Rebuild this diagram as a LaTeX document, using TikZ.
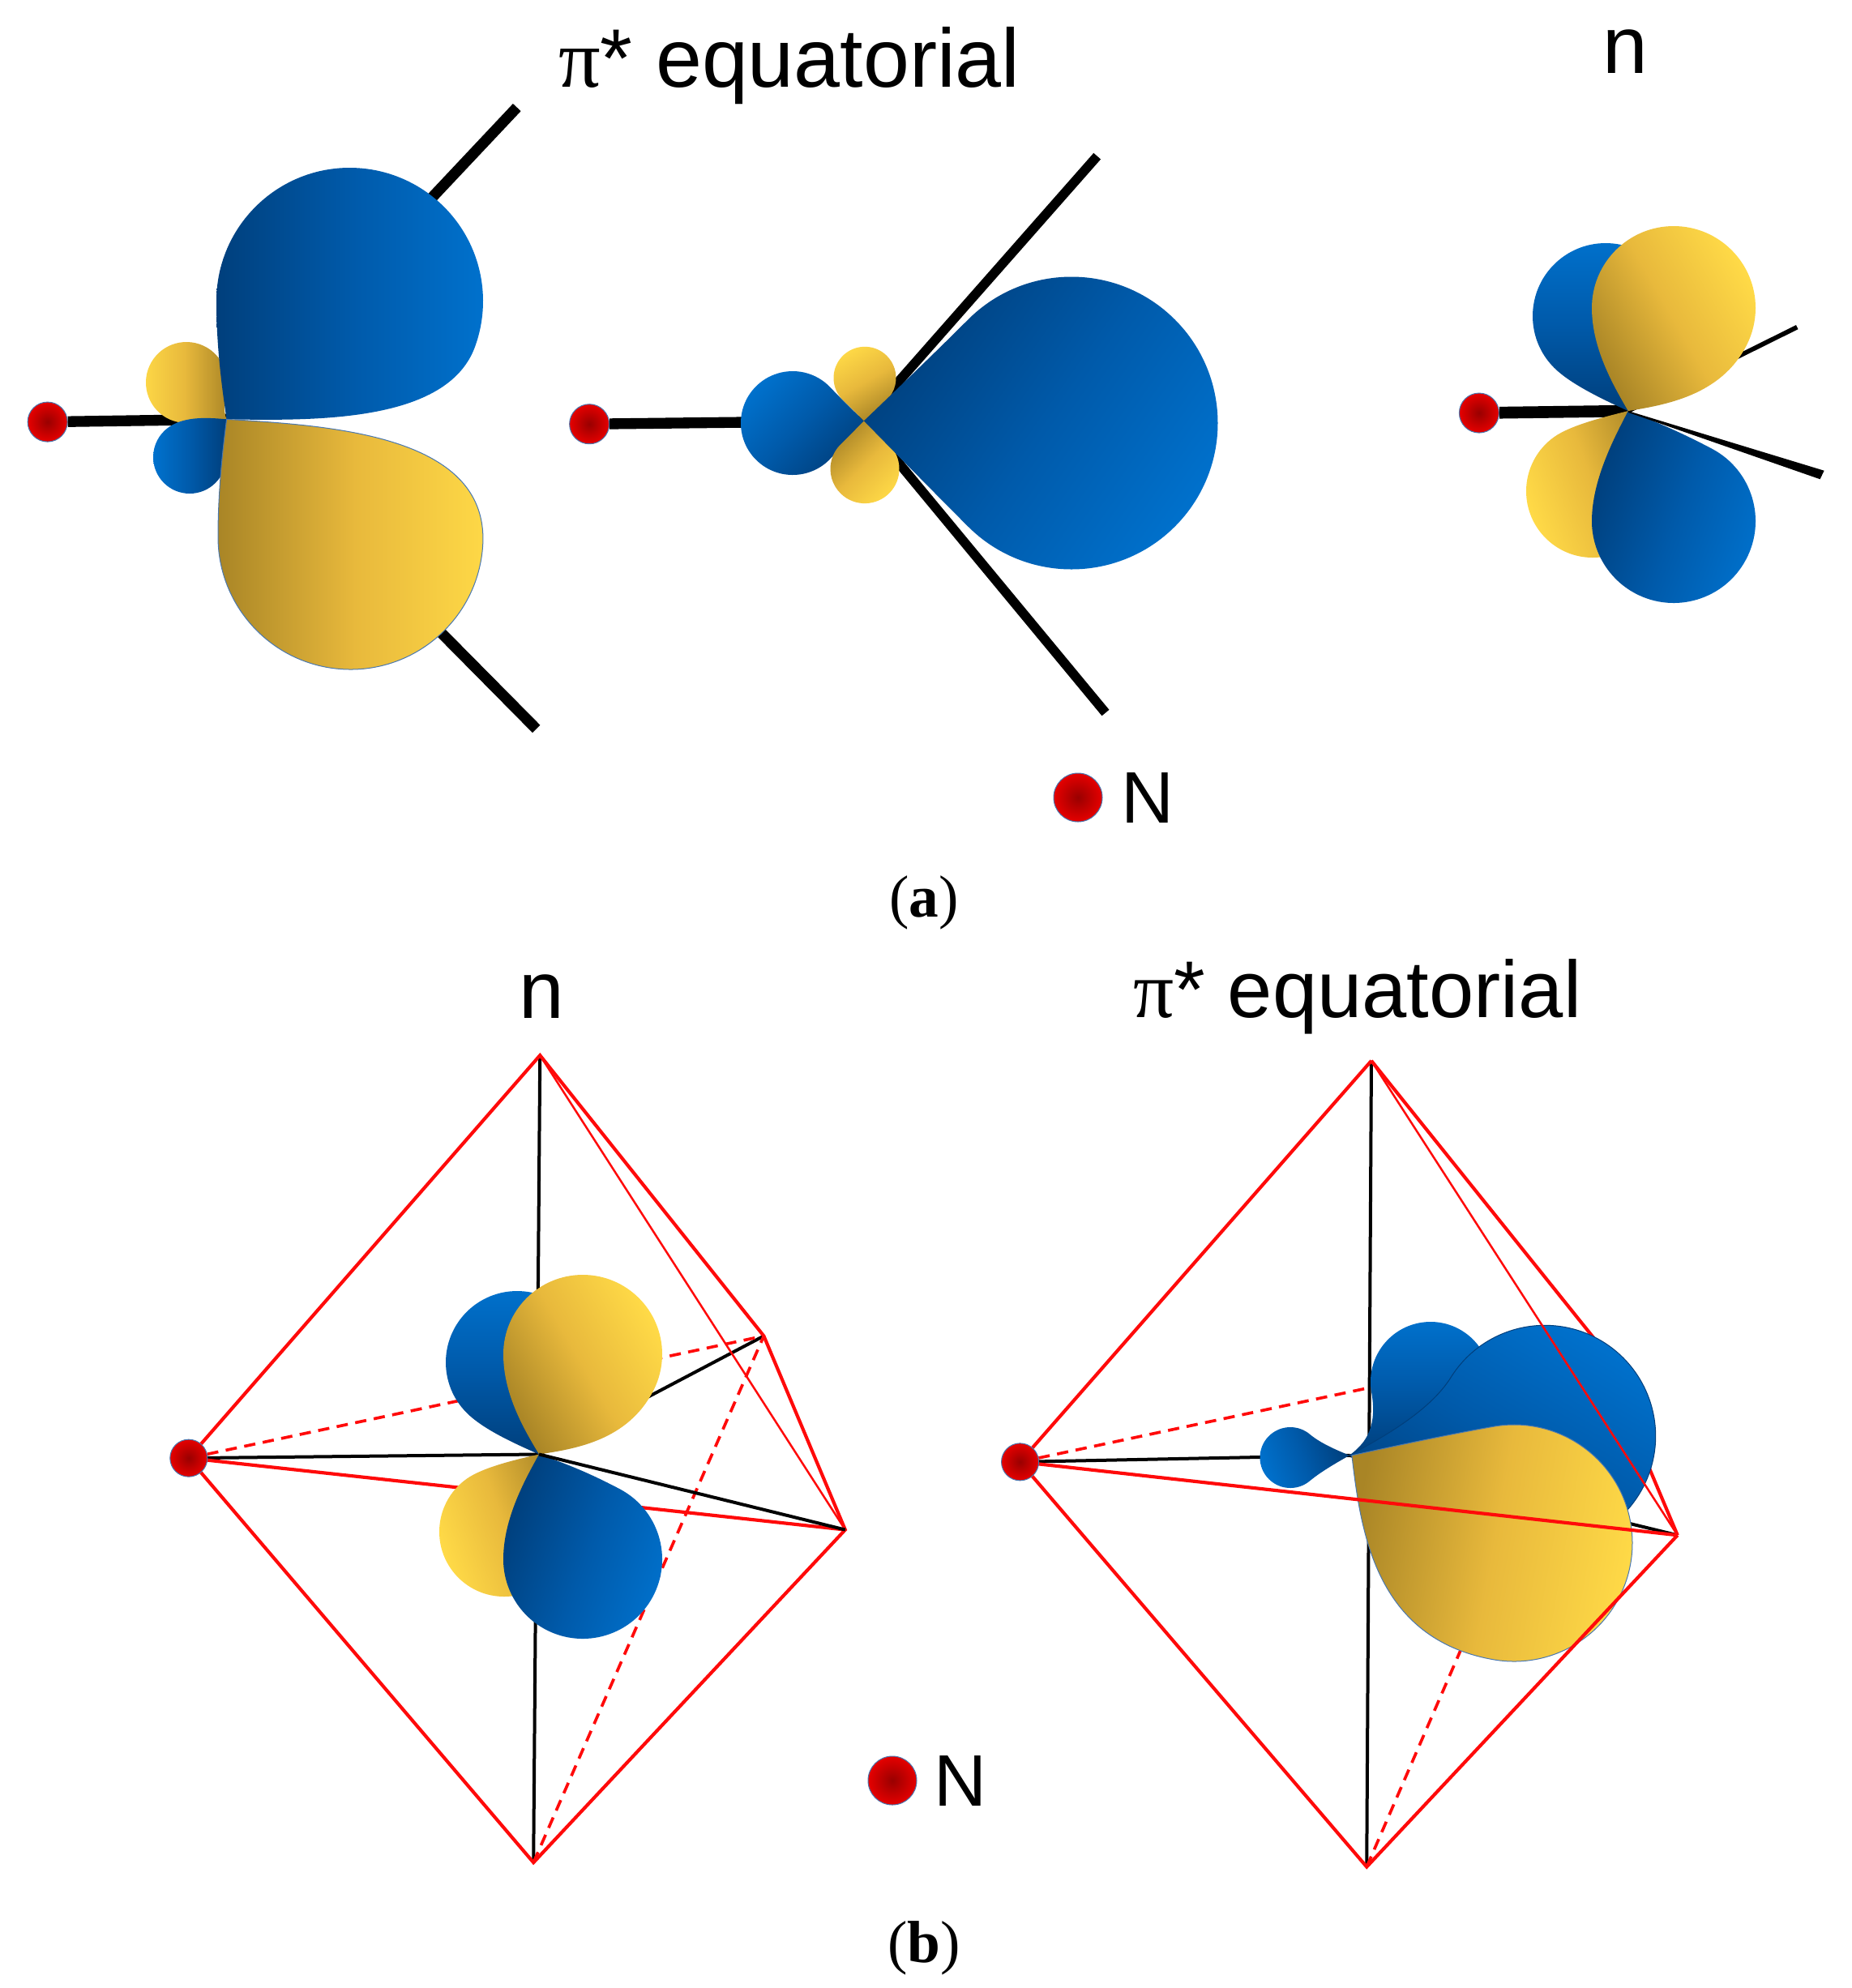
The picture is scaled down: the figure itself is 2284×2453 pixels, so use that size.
\documentclass[tikz,border=0pt]{standalone}
\usepackage{fontspec}
\usetikzlibrary{calc}
\setmainfont{Liberation Sans}
\newfontfamily\tms{Liberation Serif}
\definecolor{bbr}{HTML}{0072CE}
\definecolor{bmd}{HTML}{005AAA}
\definecolor{bdk}{HTML}{003F7C}
\definecolor{ybr}{HTML}{FFDA47}
\definecolor{ymd}{HTML}{E8B93C}
\definecolor{ydk}{HTML}{A98526}
\definecolor{rededge}{HTML}{FF0A0A}
\definecolor{rim}{HTML}{4A78B0}
\tikzset{
  zA/.style={shift={(0,100)},x=0.15306pt,y=-0.16260pt},
  zB/.style={shift={(680,150)},x=0.16260pt,y=-0.14542pt},
  zC/.style={shift={(1750,230)},x=0.10218pt,y=-0.10523pt},
  zD/.style={shift={(180,1270)},x=0.17222pt,y=-0.20094pt},
  zE/.style={shift={(1200,1270)},x=0.17222pt,y=-0.20094pt},
  bluelobe/.style={top color=bbr,bottom color=bdk,middle color=bmd,shading angle=#1},
  yellowlobe/.style={top color=ybr,bottom color=ydk,middle color=ymd,shading angle=#1},
  atomball/.style={circle,inner sep=0pt,minimum size=#1,inner color=red!60!black,outer color=red!90!black,draw=rim,line width=0.3pt},
  bond/.style={draw=black,line width=#1},
  edgeline/.style={draw=rededge,line width=1.25pt},
  thinedge/.style={draw=rededge,line width=0.75pt},
  hiddenedge/.style={draw=rededge,line width=1.1pt,dash pattern=on 4.2pt off 2.8pt},
  axisline/.style={draw=black,line width=1.2pt},
  bigtext/.style={inner sep=0pt,anchor=base,font=\fontsize{#1}{36}\selectfont},
  legendtext/.style={inner sep=0pt,anchor=base west,font=\fontsize{27}{33}\selectfont},
  captext/.style={inner sep=0pt,anchor=base,font=\tms\fontsize{22}{27}\selectfont},
}
% style, tip, centre x, centre y, radius, start angle, end angle, neck length in, neck length out
\newcommand{\teardrop}[9]{%
  \pgfmathsetmacro\tdAx{#3+#5*cos(#6)}%
  \pgfmathsetmacro\tdAy{#4+#5*sin(#6)}%
  \pgfmathsetmacro\tdBx{#3+#5*cos(#7)}%
  \pgfmathsetmacro\tdBy{#4+#5*sin(#7)}%
  \pgfmathsetmacro\tdCx{\tdAx+#8*sin(#6)}%
  \pgfmathsetmacro\tdCy{\tdAy-#8*cos(#6)}%
  \pgfmathsetmacro\tdDx{\tdBx-#9*sin(#7)}%
  \pgfmathsetmacro\tdDy{\tdBy+#9*cos(#7)}%
  \path[#1] (#2) .. controls ($(#2)!0.4!(\tdCx,\tdCy)$) and (\tdCx,\tdCy) .. (\tdAx,\tdAy)
    arc[start angle=#6,end angle=#7,radius=#5]
    .. controls (\tdDx,\tdDy) and ($(#2)!0.4!(\tdDx,\tdDy)$) .. (#2) -- cycle;%
}
\begin{document}
\begin{tikzpicture}[x=0.3pt,y=-0.3pt]
\useasboundingbox (0,0) rectangle (2284,2453);
\fill[white] (0,0) rectangle (2284,2453);

% titles
\node[bigtext=30.7] (t1) at (974,107) {{\tms π}* equatorial};
\node[bigtext=30] (t2) at (2005,90) {n};
\node[bigtext=30] (t3) at (668,1256) {n};
\node[bigtext=29.8] (t4) at (1675,1255) {{\tms π}* equatorial};
% legends and captions
\node[atomball=18pt] (leg1) at (1330,984) {};
\node[legendtext] (legN1) at (1383,1015) {N};
\node[captext] (capa) at (1140,1131) {(\textbf{a})};
\node[atomball=18pt] (leg2) at (1101,2197) {};
\node[legendtext] (legN2) at (1152,2228) {N};
\node[captext] (capb) at (1140,2421) {(\textbf{b})};

% panel a, left
\begin{scope}[zA]
\coordinate (ca) at (548,770);
\coordinate (au) at (1250,60);
\coordinate (ad) at (1297,1475);
\coordinate (aus) at (990,320);
\coordinate (ads) at (1009,1201);
\node[atomball=14.7pt] (na) at (115,776) {};
\draw[bond=4pt] (na) -- (ca);
\draw[bond=4pt] (aus) -- (au);
\draw[bond=4pt] (ads) -- (ad);
\end{scope}
\teardrop{yellowlobe=90}{ca}{230}{472}{50}{120}{370}{25}{25}
\teardrop{bluelobe=90}{ca}{234}{564}{45}{0}{235}{25}{25}
\teardrop{bluelobe=-90}{ca}{431.5}{371.5}{164.5}{180}{380}{60}{100}
\teardrop{yellowlobe=-90,draw=rim,line width=0.3pt}{ca}{432.5}{662.5}{163.5}{5}{180}{140}{60}

% panel a, middle
\begin{scope}[zB]
\coordinate (cb) at (712,762);
\coordinate (bu) at (1243,88);
\coordinate (bd) at (1262,1505);
\node[atomball=14.7pt] (nb) at (87,770) {};
\draw[bond=4pt] (nb) -- (cb);
\draw[bond=3.5pt] (cb) -- (bu);
\draw[bond=3.5pt] (cb) -- (bd);
\end{scope}
\teardrop{bluelobe=45}{cb}{978}{522}{64}{43}{317}{15}{15}
\teardrop{yellowlobe=30}{cb}{1067}{466.3}{38.5}{133}{407}{10}{10}
\teardrop{yellowlobe=-135}{cb}{1067}{578.6}{42.5}{-46}{226}{10}{10}
\teardrop{bluelobe=-125}{cb}{1322}{522}{180.5}{225}{495}{60}{60}

% panel a, right
\begin{scope}[zC]
\coordinate (cc) at (760,790);
\coordinate (cu) at (1372,495);
\coordinate (cd1) at (1470,1000);
\coordinate (cd2) at (1455,1030);
\coordinate (cd0) at (760,795);
\node[atomball=14.7pt] (nc) at (220,797) {};
\draw[bond=4.4pt] (nc) -- (cc);
\draw[bond=1.7pt] (cc) -- (cu);
\end{scope}
\teardrop{bluelobe=0}{cc}{1981}{390}{90}{135}{360}{30}{30}
\teardrop{yellowlobe=110}{cc}{1965}{606}{82}{0}{235}{30}{25}
\teardrop{yellowlobe=-60}{cc}{2065}{380}{101}{180}{387}{50}{70}
\teardrop{bluelobe=-110}{cc}{2065}{643}{101}{-62}{180}{50}{50}
\fill[black] (cc) -- (cd1) -- (cd2) -- (cd0) -- cycle;

% panel b, left
\begin{scope}[zD]
\coordinate (dT) at (847,48);
\coordinate (dB) at (833,1535);
\coordinate (dR) at (1503,922);
\coordinate (dQ) at (1328,565);
\coordinate (dc) at (845,783);
\coordinate (dL) at (92,790);
\end{scope}
\draw[axisline] (dT) -- (dB);
\draw[axisline] (dL) -- (dc);
\draw[axisline] (dc) -- (dQ);
\draw[hiddenedge] (dL) -- (dQ);
\draw[hiddenedge] (dB) -- (dQ);
\draw[edgeline] (dL) -- (dR);
\draw[edgeline] (dL) -- (dT) -- (dQ) -- (dR) -- (dB) -- cycle;
\draw[thinedge] (dT) -- (dR);
\teardrop{bluelobe=0}{dc}{638}{1681}{88}{135}{360}{30}{30}
\teardrop{yellowlobe=110}{dc}{622}{1890}{80}{0}{235}{30}{25}
\teardrop{yellowlobe=-60}{dc}{719}{1671}{98}{180}{387}{50}{70}
\teardrop{bluelobe=-110}{dc}{719}{1924}{98}{-62}{180}{50}{50}
\draw[axisline] (dc) -- (dR);
\node[atomball=13.8pt] (nd) at (dL) {};

% panel b, right
\begin{scope}[zE]
\coordinate (eT) at (857,58);
\coordinate (eB) at (847,1543);
\coordinate (eR) at (1515,932);
\coordinate (eQ) at (1338,572);
\coordinate (ec) at (810,785);
\coordinate (eY) at (815,785);
\coordinate (eL) at (102,797);
\end{scope}
\draw[axisline] (eT) -- (eB);
\draw[axisline] (eL) -- (ec);
\draw[axisline] (ec) -- (eR);
\draw[hiddenedge] (eL) -- (eQ);
\draw[hiddenedge] (eB) -- (eQ);
\draw[edgeline] (eT) -- (eQ) -- (eR);
\teardrop{bluelobe=110}{ec}{1592}{1798.5}{37.5}{50}{310}{18}{18}
\teardrop{bluelobe=0}{ec}{1765}{1705}{74}{170}{380}{50}{40}
\teardrop{bluelobe=-30,draw=bdk,line width=0.3pt}{ec}{1906}{1772}{136.7}{212}{405}{50}{80}
\draw[thinedge] (eT) -- (eR);
\teardrop{yellowlobe=-100,draw=rim,line width=0.3pt}{eY}{1868}{1904}{146}{-100}{100}{60}{150}
\draw[edgeline] (eL) -- (eR);
\draw[edgeline] (eL) -- (eT);
\draw[edgeline] (eL) -- (eB) -- (eR);
\node[atomball=13.8pt] (ne) at (eL) {};
\end{tikzpicture}
\end{document}
